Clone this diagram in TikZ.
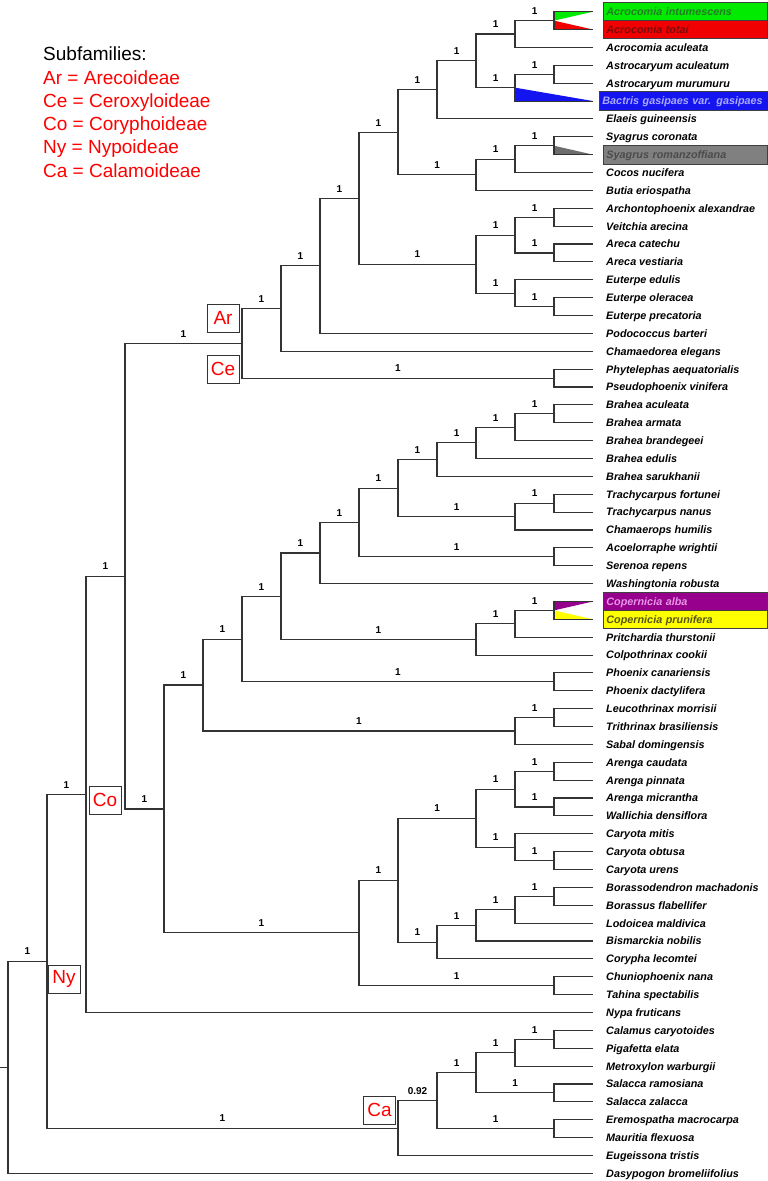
\documentclass[tikz,border=0pt]{standalone}
\usepackage{fontspec}
\setmainfont{Liberation Sans}
\usetikzlibrary{calc,positioning}

\definecolor{fillgreen}{RGB}{0,235,0}
\definecolor{textgreen}{RGB}{35,125,35}
\definecolor{fillred}{RGB}{240,0,0}
\definecolor{textred}{RGB}{125,10,10}
\definecolor{fillblue}{RGB}{20,20,240}
\definecolor{textblue}{RGB}{170,170,255}
\definecolor{fillgray}{RGB}{128,128,128}
\definecolor{textgray}{RGB}{75,75,75}
\definecolor{fillpurple}{RGB}{150,0,140}
\definecolor{textpurple}{RGB}{230,150,230}
\definecolor{fillyellow}{RGB}{255,255,0}
\definecolor{textyellow}{RGB}{85,85,20}

\newcommand{\leaffont}{\fontsize{10.8}{12}\selectfont\bfseries\itshape}
% elbow from parent to child clade, with its support value
\newcommand{\clade}[3]{%
	\draw[branch] (#1) |- (#2);
	\node[support] at ($(#1 |- #2)!0.5!(#2)$) {#3};}
% elbow from parent to a leaf
\newcommand{\tip}[2]{\draw[branch, shorten >=10pt] (#1) |- (#2.west);}

\tikzset{
	branch/.style={line width=1.1pt, draw=black!80},
	support/.style={above=5pt, inner sep=1pt, font=\fontsize{10}{10}\selectfont\bfseries},
	leaf/.style={anchor=west, inner xsep=3pt, inner ysep=0pt, font=\leaffont, text height=7.8pt, text depth=0pt},
	hl/.style 2 args={fill=#1, text=#2, draw=black!75, line width=0.8pt, text width=158pt, align=left, minimum height=18.6pt},
	greenbox/.style={hl={fillgreen}{textgreen}},
	redbox/.style={hl={fillred}{textred}},
	bluebox/.style={hl={fillblue}{textblue}, text width=163pt, xshift=-4pt},
	graybox/.style={hl={fillgray}{textgray}},
	purplebox/.style={hl={fillpurple}{textpurple}},
	yellowbox/.style={hl={fillyellow}{textyellow}},
	subfam/.style={draw=black!80, line width=1pt, text=red, minimum width=32pt, minimum height=28pt, inner sep=0pt, font=\fontsize{19}{19}\selectfont},
	legend/.style={anchor=base west, inner sep=0pt, font=\fontsize{19}{23}\selectfont},
}

\begin{document}
\begin{tikzpicture}[x=1pt, y=-17.87pt]
	\useasboundingbox (0,-0.6547) rectangle (767,65.43);

	% leaves
	\foreach \name/\kind [count=\i from 0] in {
		Acrocomia intumescens/greenbox,
		Acrocomia totai/redbox,
		Acrocomia aculeata/leaf,
		Astrocaryum aculeatum/leaf,
		Astrocaryum murumuru/leaf,
		\mbox{Bactris gasipaes var. gasipaes}/bluebox,
		Elaeis guineensis/leaf,
		Syagrus coronata/leaf,
		Syagrus romanzoffiana/graybox,
		Cocos nucifera/leaf,
		Butia eriospatha/leaf,
		Archontophoenix alexandrae/leaf,
		Veitchia arecina/leaf,
		Areca catechu/leaf,
		Areca vestiaria/leaf,
		Euterpe edulis/leaf,
		Euterpe oleracea/leaf,
		Euterpe precatoria/leaf,
		Podococcus barteri/leaf,
		Chamaedorea elegans/leaf,
		Phytelephas aequatorialis/leaf,
		Pseudophoenix vinifera/leaf,
		Brahea aculeata/leaf,
		Brahea armata/leaf,
		Brahea brandegeei/leaf,
		Brahea edulis/leaf,
		Brahea sarukhanii/leaf,
		Trachycarpus fortunei/leaf,
		Trachycarpus nanus/leaf,
		Chamaerops humilis/leaf,
		Acoelorraphe wrightii/leaf,
		Serenoa repens/leaf,
		Washingtonia robusta/leaf,
		Copernicia alba/purplebox,
		Copernicia prunifera/yellowbox,
		Pritchardia thurstonii/leaf,
		Colpothrinax cookii/leaf,
		Phoenix canariensis/leaf,
		Phoenix dactylifera/leaf,
		Leucothrinax morrisii/leaf,
		Trithrinax brasiliensis/leaf,
		Sabal domingensis/leaf,
		Arenga caudata/leaf,
		Arenga pinnata/leaf,
		Arenga micrantha/leaf,
		Wallichia densiflora/leaf,
		Caryota mitis/leaf,
		Caryota obtusa/leaf,
		Caryota urens/leaf,
		Borassodendron machadonis/leaf,
		Borassus flabellifer/leaf,
		Lodoicea maldivica/leaf,
		Bismarckia nobilis/leaf,
		Corypha lecomtei/leaf,
		Chuniophoenix nana/leaf,
		Tahina spectabilis/leaf,
		Nypa fruticans/leaf,
		Calamus caryotoides/leaf,
		Pigafetta elata/leaf,
		Metroxylon warburgii/leaf,
		Salacca ramosiana/leaf,
		Salacca zalacca/leaf,
		Eremospatha macrocarpa/leaf,
		Mauritia flexuosa/leaf,
		Eugeissona tristis/leaf,
		Dasypogon bromeliifolius/leaf}
		\node[leaf, \kind] (l\i) at (603,\i) {\name};

	% inner nodes
	\coordinate (A1) at (554,0.5);
	\coordinate (A2) at (515,1.25);
	\coordinate (A3) at (554,3.5);
	\coordinate (A4) at (515,4.25);
	\coordinate (A5) at (476,2.75);
	\coordinate (A6) at (437,4.375);
	\coordinate (S1) at (554,7.5);
	\coordinate (S2) at (515,8.25);
	\coordinate (S3) at (476,9.125);
	\coordinate (A7) at (398,6.75);
	\coordinate (E1) at (554,11.5);
	\coordinate (E2) at (554,13.5);
	\coordinate (E3) at (515,12.5);
	\coordinate (E4) at (554,16.5);
	\coordinate (E5) at (515,15.75);
	\coordinate (E6) at (476,14.125);
	\coordinate (A8) at (359,10.4375);
	\coordinate (A9) at (320,14.219);
	\coordinate (A10) at (281,16.609);
	\coordinate (Ce) at (554,20.5);
	\coordinate (AC) at (242,18.555);
	\coordinate (B1) at (554,22.5);
	\coordinate (B2) at (515,23.25);
	\coordinate (B3) at (476,24.125);
	\coordinate (B4) at (437,25.0625);
	\coordinate (T1) at (554,27.5);
	\coordinate (T2) at (515,28.25);
	\coordinate (C1) at (398,26.656);
	\coordinate (AS) at (554,30.5);
	\coordinate (C2) at (359,28.578);
	\coordinate (C3) at (320,30.289);
	\coordinate (P1) at (554,33.5);
	\coordinate (P2) at (515,34.25);
	\coordinate (P3) at (476,35.125);
	\coordinate (C4) at (281,32.707);
	\coordinate (Ph) at (554,37.5);
	\coordinate (C5) at (242,35.104);
	\coordinate (LT) at (554,39.5);
	\coordinate (LTS) at (515,40.25);
	\coordinate (C6) at (203,37.677);
	\coordinate (Ar1) at (554,42.5);
	\coordinate (Ar2) at (554,44.5);
	\coordinate (Ar3) at (515,43.5);
	\coordinate (Ca1) at (554,47.5);
	\coordinate (Ca2) at (515,46.75);
	\coordinate (Ar4) at (476,45.125);
	\coordinate (Bo1) at (554,49.5);
	\coordinate (Bo2) at (515,50.25);
	\coordinate (Bo3) at (476,51.125);
	\coordinate (Bo4) at (437,52.0625);
	\coordinate (Ar5) at (398,48.594);
	\coordinate (Ch) at (554,54.5);
	\coordinate (Ar6) at (359,51.547);
	\coordinate (Co) at (164,44.612);
	\coordinate (N3) at (125,31.583);
	\coordinate (N2) at (86,43.792);
	\coordinate (K1) at (554,57.5);
	\coordinate (K2) at (515,58.25);
	\coordinate (K3) at (554,60.5);
	\coordinate (K4) at (476,59.375);
	\coordinate (K5) at (554,62.5);
	\coordinate (K6) at (437,60.9375);
	\coordinate (K7) at (398,62.469);
	\coordinate (N1) at (47,53.130);
	\coordinate (root) at (8,59.065);
	\coordinate (stub) at (0,59.065);

	% coloured wedges
	\fill[fillgreen] (A1) -- ([xshift=-10pt]l0.west) -- (A1 |- l0.west) -- cycle;
	\fill[fillred] (A1) -- ([xshift=-10pt]l1.west) -- (A1 |- l1.west) -- cycle;
	\fill[fillblue] (A4) -- ([xshift=-6pt]l5.west) -- (A4 |- l5.west) -- cycle;
	\fill[fillgray!85!black] (S1) -- ([xshift=-10pt]l8.west) -- (S1 |- l8.west) -- cycle;
	\fill[fillpurple] (P1) -- ([xshift=-10pt]l33.west) -- (P1 |- l33.west) -- cycle;
	\fill[fillyellow] (P1) -- ([xshift=-10pt]l34.west) -- (P1 |- l34.west) -- cycle;

	% Arecoideae + Ceroxyloideae
	\clade{A2}{A1}{1} \tip{A1}{l0} \tip{A1}{l1} \tip{A2}{l2}
	\clade{A4}{A3}{1} \tip{A3}{l3} \tip{A3}{l4}
	\draw[branch, shorten >=6pt] (A4) |- (l5.west);
	\clade{A5}{A2}{1} \clade{A5}{A4}{1}
	\clade{A6}{A5}{1} \tip{A6}{l6}
	\clade{S2}{S1}{1} \tip{S1}{l7} \tip{S1}{l8} \tip{S2}{l9}
	\clade{S3}{S2}{1} \tip{S3}{l10}
	\clade{A7}{A6}{1} \clade{A7}{S3}{1}
	\clade{E3}{E1}{1} \clade{E3}{E2}{1}
	\tip{E1}{l11} \tip{E1}{l12} \tip{E2}{l13} \tip{E2}{l14}
	\clade{E5}{E4}{1} \tip{E5}{l15} \tip{E4}{l16} \tip{E4}{l17}
	\clade{E6}{E3}{1} \clade{E6}{E5}{1}
	\clade{A8}{A7}{1} \clade{A8}{E6}{1}
	\clade{A9}{A8}{1} \tip{A9}{l18}
	\clade{A10}{A9}{1} \tip{A10}{l19}
	\clade{AC}{A10}{1} \clade{AC}{Ce}{1} \tip{Ce}{l20} \tip{Ce}{l21}

	% Coryphoideae
	\clade{B2}{B1}{1} \tip{B1}{l22} \tip{B1}{l23} \tip{B2}{l24}
	\clade{B3}{B2}{1} \tip{B3}{l25}
	\clade{B4}{B3}{1} \tip{B4}{l26}
	\clade{T2}{T1}{1} \tip{T1}{l27} \tip{T1}{l28} \tip{T2}{l29}
	\clade{C1}{B4}{1} \clade{C1}{T2}{1}
	\clade{C2}{C1}{1} \clade{C2}{AS}{1} \tip{AS}{l30} \tip{AS}{l31}
	\clade{C3}{C2}{1} \tip{C3}{l32}
	\clade{P2}{P1}{1} \tip{P1}{l33} \tip{P1}{l34} \tip{P2}{l35}
	\clade{P3}{P2}{1} \tip{P3}{l36}
	\clade{C4}{C3}{1} \clade{C4}{P3}{1}
	\clade{C5}{C4}{1} \clade{C5}{Ph}{1} \tip{Ph}{l37} \tip{Ph}{l38}
	\clade{LTS}{LT}{1} \tip{LT}{l39} \tip{LT}{l40} \tip{LTS}{l41}
	\clade{C6}{C5}{1} \clade{C6}{LTS}{1}
	\clade{Ar3}{Ar1}{1} \clade{Ar3}{Ar2}{1}
	\tip{Ar1}{l42} \tip{Ar1}{l43} \tip{Ar2}{l44} \tip{Ar2}{l45}
	\clade{Ca2}{Ca1}{1} \tip{Ca2}{l46} \tip{Ca1}{l47} \tip{Ca1}{l48}
	\clade{Ar4}{Ar3}{1} \clade{Ar4}{Ca2}{1}
	\clade{Bo2}{Bo1}{1} \tip{Bo1}{l49} \tip{Bo1}{l50} \tip{Bo2}{l51}
	\clade{Bo3}{Bo2}{1} \tip{Bo3}{l52}
	\clade{Bo4}{Bo3}{1} \tip{Bo4}{l53}
	\clade{Ar5}{Ar4}{1} \clade{Ar5}{Bo4}{1}
	\clade{Ar6}{Ar5}{1} \clade{Ar6}{Ch}{1} \tip{Ch}{l54} \tip{Ch}{l55}
	\clade{Co}{C6}{1} \clade{Co}{Ar6}{1}

	% backbone + Nypoideae
	\clade{N3}{AC}{1} \clade{N3}{Co}{1}
	\clade{N2}{N3}{1} \tip{N2}{l56}

	% Calamoideae
	\clade{K2}{K1}{1} \tip{K1}{l57} \tip{K1}{l58} \tip{K2}{l59}
	\clade{K4}{K2}{1} \clade{K4}{K3}{1} \tip{K3}{l60} \tip{K3}{l61}
	\clade{K6}{K4}{1} \clade{K6}{K5}{1} \tip{K5}{l62} \tip{K5}{l63}
	\clade{K7}{K6}{0.92} \tip{K7}{l64}
	\clade{N1}{N2}{1} \clade{N1}{K7}{1}
	\clade{root}{N1}{1} \tip{root}{l65}
	\draw[branch] (stub) -- (root);

	% legend and subfamily tags (pixel units)
	\begin{scope}[y=-1pt, yshift=11.7pt]
		\node[legend] (title) at (43,60.7) {Subfamilies:};
		\foreach \ab/\full [count=\k] in {Ar/Arecoideae, Ce/Ceroxyloideae,
			Co/Coryphoideae, Ny/Nypoideae, Ca/Calamoideae}
			\node[legend, text=red] (key\k) at (43,{60.7+23.3*\k}) {\ab{} = \full};

		\node[subfam] (tagAr) at (223,318) {Ar};
		\node[subfam] (tagCe) at (223,369) {Ce};
		\node[subfam] (tagCo) at (105,800) {Co};
		\node[subfam] (tagNy) at (64,979) {Ny};
		\node[subfam] (tagCa) at (379.5,1110) {Ca};
	\end{scope}
\end{tikzpicture}
\end{document}
